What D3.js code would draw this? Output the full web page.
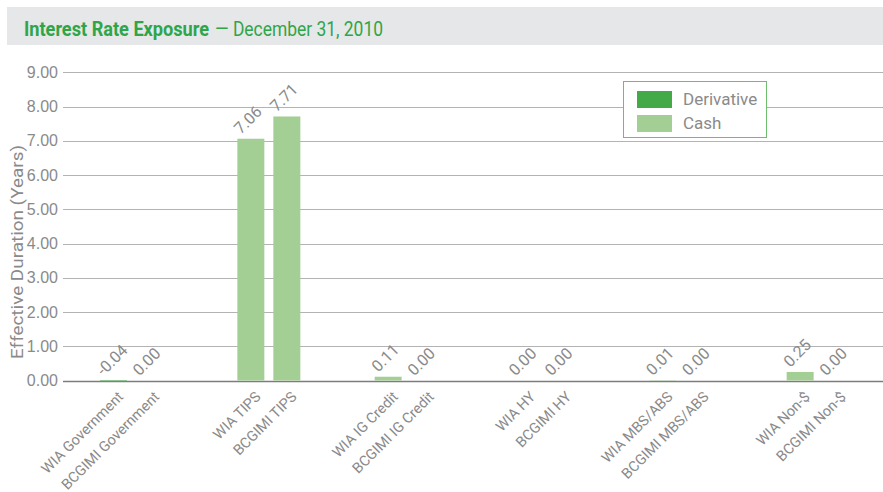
<!DOCTYPE html>
<html>
<head>
<meta charset="utf-8">
<script src="https://cdn.jsdelivr.net/npm/d3@7"></script>
<style>
  body { margin: 0; background: #fff; }
  svg { display: block; font-family: Roboto, "DejaVu Sans", sans-serif; }
</style>
</head>
<body>
<div id="chart"></div>
<script>
// groups and the two portfolios in each
var groups = ["Government", "TIPS", "IG Credit", "HY", "MBS/ABS", "Non-$"];
var portfolios = ["WIA", "BCGIMI"];
// values per portfolio, in group order
var wiaDerivative = [-0.04, 0, 0, 0, 0, 0];
var wiaCash = [0, 7.06, 0.11, 0, 0.01, 0.25];
var bcDerivative = [0, 0, 0, 0, 0, 0];
var bcCash = [0, 7.71, 0, 0, 0, 0];
var yTicks = [0, 1, 2, 3, 4, 5, 6, 7, 8, 9];
var seriesNames = ["Derivative", "Cash"];

var colorDict = {};
colorDict.Derivative = "#44aa48";
colorDict.Cash = "#a3cf95";
var grey = "#8a8a8a";
var titleGreen = "#2fa54a";

var fmt = function(v) { return d3.format(".2f")(v).replace("\u2212", "-"); };

var width = 883, height = 492;
var svg = d3.select("#chart").append("svg").attr("width", width).attr("height", height);

// title bar
svg.append("rect").attr("x", 7).attr("y", 7).attr("width", width - 7).attr("height", 38).attr("fill", "#e6e7e8");
svg.append("text").attr("x", 24).attr("y", 36).attr("font-size", 20).attr("fill", titleGreen)
  .attr("font-weight", "bold").attr("textLength", 185).attr("lengthAdjust", "spacingAndGlyphs")
  .text("Interest Rate Exposure");
svg.append("text").attr("x", 215).attr("y", 36).attr("font-size", 20).attr("fill", titleGreen)
  .attr("textLength", 168).attr("lengthAdjust", "spacingAndGlyphs")
  .text("\u2014 December 31, 2010");

var x0 = d3.scaleBand().domain(groups).range([63, 887]).padding(0);
var x1 = d3.scaleBand().domain(portfolios).range([37, 100]).paddingInner(0.25).paddingOuter(0);
var y = d3.scaleLinear().domain([0, 9]).range([380.5, 72.3]);

// build rows from the arrays
var rows = [];
groups.forEach(function(g, i) {
  rows.push({ group: g, port: "WIA", Derivative: wiaDerivative[i], Cash: wiaCash[i] });
  rows.push({ group: g, port: "BCGIMI", Derivative: bcDerivative[i], Cash: bcCash[i] });
});
rows.forEach(function(d) { d.total = d.Derivative + d.Cash; d.cx = x0(d.group) + x1(d.port) + x1.bandwidth() / 2; });

// gridlines
var grid = svg.append("g");
grid.selectAll("line").data(yTicks).enter().append("line")
  .attr("x1", 63).attr("x2", width)
  .attr("y1", function(d) { return Math.round(y(d)) + 0.5; })
  .attr("y2", function(d) { return Math.round(y(d)) + 0.5; })
  .attr("stroke", function(d) { return d === 0 ? "#7d7d7d" : "#b3b3b3"; })
  .attr("stroke-width", function(d) { return d === 0 ? 1.5 : 1.2; });

// y axis labels
var yAxis = svg.append("g").attr("transform", "translate(63,0)")
  .call(d3.axisLeft(y).tickValues(yTicks).tickFormat(fmt).tickSize(0).tickPadding(5));
yAxis.select(".domain").remove();
yAxis.selectAll("text").attr("font-size", 16).attr("fill", grey).attr("font-family", null);

svg.append("text")
  .attr("transform", "translate(23,252) rotate(-90)")
  .attr("text-anchor", "middle").attr("font-size", 17).attr("fill", grey)
  .attr("textLength", 214).attr("lengthAdjust", "spacingAndGlyphs")
  .text("Effective Duration (Years)");

// stacked bars: derivative then cash
var bars = svg.append("g");
rows.forEach(function(d) {
  var pos = 0, neg = 0;
  seriesNames.forEach(function(s) {
    var v = d[s];
    if (v === 0) return;
    var y0, y1v;
    if (v > 0) { y0 = pos; pos += v; y1v = pos; } else { y0 = neg; neg += v; y1v = neg; }
    bars.append("rect")
      .attr("x", x0(d.group) + x1(d.port))
      .attr("width", x1.bandwidth())
      .attr("y", y(Math.max(y0, y1v)))
      .attr("height", Math.abs(y(y0) - y(y1v)))
      .attr("fill", colorDict[s]);
  });
});

// value labels
svg.append("g").selectAll("text").data(rows).enter().append("text")
  .attr("transform", function(d) { return "translate(" + (d.cx - 10) + "," + (y(Math.max(d.total, 0)) - 4) + ") rotate(-45)"; })
  .attr("font-size", 16).attr("fill", grey)
  .text(function(d) { return fmt(d.total); });

// category labels
svg.append("g").selectAll("text").data(rows).enter().append("text")
  .attr("transform", function(d) { return "translate(" + (d.cx + 3) + ",390) rotate(-45)"; })
  .attr("text-anchor", "end").attr("dy", "0.75em")
  .attr("font-size", 14.5).attr("fill", grey)
  .text(function(d) { return d.port + " " + d.group; });

// legend
var legend = svg.append("g").attr("transform", "translate(623,81)");
legend.append("rect").attr("x", 0.5).attr("y", 0.5).attr("width", 143).attr("height", 56)
  .attr("fill", "#fff").attr("stroke", "#6dbf6d").attr("stroke-width", 1);
seriesNames.forEach(function(s, i) {
  legend.append("rect").attr("x", 14).attr("y", 10 + i * 24).attr("width", 35).attr("height", 17).attr("fill", colorDict[s]);
  legend.append("text").attr("x", 60).attr("y", 24 + i * 24).attr("font-size", 17).attr("fill", grey).text(s);
});
</script>
</body>
</html>
